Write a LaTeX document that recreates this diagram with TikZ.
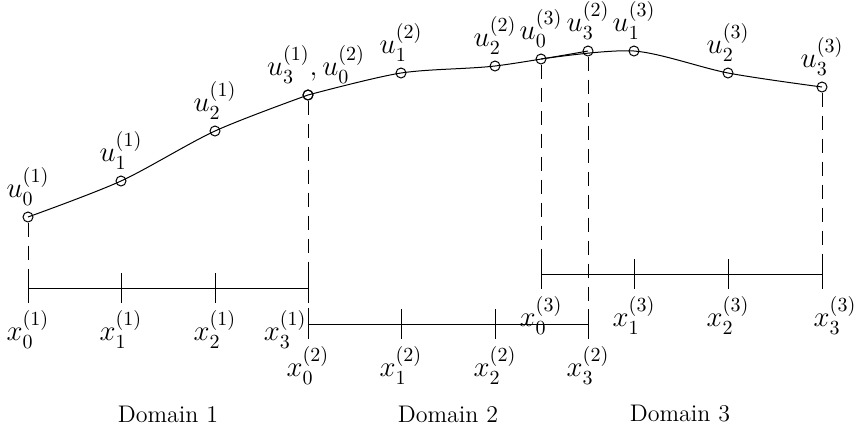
\documentclass[tikz,border=0pt,12pt]{standalone}
\usepackage{amsmath}
\usetikzlibrary{positioning}

\begin{document}
\begin{tikzpicture}[x=0.5pt,y=-0.5pt,line width=0.5pt,
  gridpt/.style={circle,draw,inner sep=0pt,minimum size=5pt},
  vline/.style={dash pattern=on 7pt off 4.5pt},
  lab/.style={inner sep=0pt,font=\large}]

  \useasboundingbox (0,0) rectangle (857,430);

  % Axis heights of the three domains
  \def\ya{288}
  \def\yb{324}
  \def\yc{274}

  % Grid points: index/x/u-value
  \foreach \i/\x/\u in {0/28/217,1/121/181,2/215/131,3/308/95} {
    \node[gridpt] (u1\i) at (\x,\u) {};
    \coordinate (a1\i) at (\x,\ya);
    \coordinate (t1\i) at (\x,\ya-15);
    \coordinate (b1\i) at (\x,\ya+15);
  }
  \foreach \i/\x/\u in {0/308/95,1/401/73,2/495/66,3/588/51} {
    \node[gridpt] (u2\i) at (\x,\u) {};
    \coordinate (a2\i) at (\x,\yb);
    \coordinate (t2\i) at (\x,\yb-15);
    \coordinate (b2\i) at (\x,\yb+15);
  }
  \foreach \i/\x/\u in {0/541/59,1/634/51,2/728/73,3/822/87} {
    \node[gridpt] (u3\i) at (\x,\u) {};
    \coordinate (a3\i) at (\x,\yc);
    \coordinate (t3\i) at (\x,\yc-15);
    \coordinate (b3\i) at (\x,\yc+15);
  }

  % Solution curves
  \draw plot[smooth] coordinates {(u10) (u11) (u12) (u13)};
  \draw plot[smooth] coordinates {(u20) (u21) (u22) (u23)};
  \draw plot[smooth] coordinates {(u30) (u31) (u32) (u33)};

  % Axes with ticks
  \foreach \d in {1,2,3} {
    \draw (a\d0) -- (a\d3);
    \foreach \i in {0,1,2,3}
      \draw (t\d\i) -- (b\d\i);
  }

  % Dashed drop lines
  \draw[vline] (u10) -- (b10);
  \draw[vline] (u13) -- (b20);
  \draw[vline] (u30) -- (b30);
  \draw[vline] (u23) -- (b23);
  \draw[vline] (u33) -- (b33);

  % Labels of the values
  \node[lab,above=3pt of u10] (lu10) {$u_0^{(1)}$};
  \node[lab,above=3pt of u11] (lu11) {$u_1^{(1)}$};
  \node[lab,above=3pt of u12] (lu12) {$u_2^{(1)}$};
  \node[lab,above=3pt of u13,xshift=4pt] (lu13) {$u_3^{(1)}, u_0^{(2)}$};
  \node[lab,above=3pt of u21] (lu21) {$u_1^{(2)}$};
  \node[lab,above=3pt of u22] (lu22) {$u_2^{(2)}$};
  \node[lab,above=3pt of u23] (lu23) {$u_3^{(2)}$};
  \node[lab,above=3pt of u30] (lu30) {$u_0^{(3)}$};
  \node[lab,above=3pt of u31] (lu31) {$u_1^{(3)}$};
  \node[lab,above=3pt of u32] (lu32) {$u_2^{(3)}$};
  \node[lab,above=3pt of u33] (lu33) {$u_3^{(3)}$};

  % Labels of the nodes
  \foreach \i in {0,1,2} {
    \node[lab,below=3.5pt of b1\i] (lx1\i) {$x_\i^{(1)}$};
  }
  \node[lab,below left=3.5pt and 0.5pt of b13] (lx13) {$x_3^{(1)}$};
  \foreach \i in {0,1,2,3} {
    \node[lab,below=3.5pt of b2\i] (lx2\i) {$x_\i^{(2)}$};
  }
  \foreach \i in {0,1,2} {
    \node[lab,below=3.5pt of b3\i] (lx3\i) {$x_\i^{(3)}$};
  }
  \node[lab,below=3.5pt of b33,xshift=6.5pt] (lx33) {$x_3^{(3)}$};

  % Domain names
  \node (dom1) at (168,414) {Domain 1};
  \node (dom2) at (448,414) {Domain 2};
  \node (dom3) at (680,414) {Domain 3};

\end{tikzpicture}
\end{document}
